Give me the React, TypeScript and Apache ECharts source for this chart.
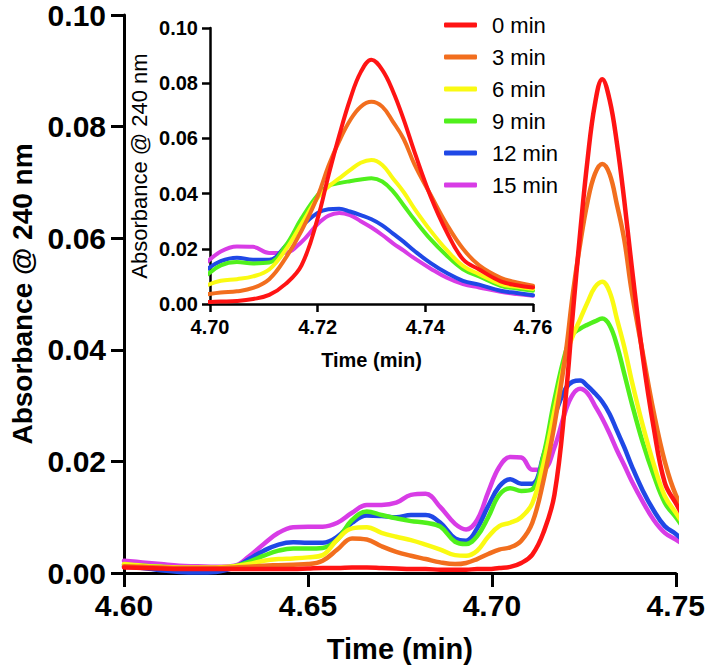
import React, { useEffect, useRef } from 'react';
import * as echarts from 'echarts';

const FONT = '"Liberation Sans", Arial, Helvetica, sans-serif';

// Time (min)
const times = [
  4.600, 4.605, 4.610, 4.615, 4.620, 4.625, 4.630, 4.634, 4.638, 4.642,
  4.646, 4.650, 4.654, 4.658, 4.662, 4.666, 4.670, 4.674, 4.678, 4.682,
  4.686, 4.690, 4.693, 4.696, 4.699, 4.702, 4.705, 4.708, 4.711, 4.714,
  4.717, 4.720, 4.722, 4.724, 4.726, 4.728, 4.730, 4.732, 4.734, 4.736,
  4.738, 4.741, 4.744, 4.747, 4.750, 4.754, 4.757, 4.760,
];

const min0 = [
  0.0010, 0.0009, 0.0008, 0.0007, 0.0007, 0.0007, 0.0007, 0.0007, 0.0007, 0.0007,
  0.0007, 0.0008, 0.0009, 0.0009, 0.0010, 0.0010, 0.0009, 0.0008, 0.0007, 0.0007,
  0.0006, 0.0006, 0.0006, 0.0007, 0.0007, 0.0009, 0.0011, 0.0018, 0.0033, 0.0072,
  0.0140, 0.0310, 0.0465, 0.0610, 0.0740, 0.0840, 0.0885, 0.0848, 0.0770, 0.0667,
  0.0550, 0.0389, 0.0260, 0.0162, 0.0125, 0.0082, 0.0068, 0.0060,
];

const min3 = [
  0.0012, 0.0011, 0.0010, 0.0009, 0.0009, 0.0009, 0.0010, 0.0011, 0.0013, 0.0014,
  0.0015, 0.0016, 0.0022, 0.0042, 0.0062, 0.0060, 0.0048, 0.0038, 0.0031, 0.0025,
  0.0019, 0.0016, 0.0018, 0.0025, 0.0034, 0.0042, 0.0046, 0.0058, 0.0090, 0.0165,
  0.0265, 0.0390, 0.0500, 0.0590, 0.0665, 0.0715, 0.0733, 0.0715, 0.0660, 0.0597,
  0.0505, 0.0395, 0.0288, 0.0200, 0.0140, 0.0095, 0.0078, 0.0066,
];

const min6 = [
  0.0016, 0.0013, 0.0011, 0.0010, 0.0010, 0.0010, 0.0012, 0.0016, 0.0022, 0.0025,
  0.0026, 0.0028, 0.0032, 0.0060, 0.0080, 0.0082, 0.0072, 0.0065, 0.0059, 0.0051,
  0.0042, 0.0032, 0.0031, 0.0040, 0.0065, 0.0084, 0.0090, 0.0100, 0.0125, 0.0195,
  0.0290, 0.0385, 0.0425, 0.0455, 0.0485, 0.0512, 0.0522, 0.0504, 0.0455, 0.0405,
  0.0345, 0.0265, 0.0195, 0.0138, 0.0108, 0.0072, 0.0062, 0.0054,
];

const min9 = [
  0.0015, 0.0013, 0.0011, 0.0009, 0.0008, 0.0008, 0.0012, 0.0020, 0.0031, 0.0040,
  0.0044, 0.0044, 0.0045, 0.0060, 0.0095, 0.0110, 0.0104, 0.0098, 0.0093, 0.0090,
  0.0083, 0.0056, 0.0052, 0.0066, 0.0100, 0.0140, 0.0152, 0.0147, 0.0150, 0.0210,
  0.0310, 0.0395, 0.0428, 0.0438, 0.0445, 0.0451, 0.0456, 0.0444, 0.0408, 0.0357,
  0.0305, 0.0234, 0.0175, 0.0126, 0.0100, 0.0066, 0.0056, 0.0048,
];

const min12 = [
  0.0012, 0.0009, 0.0005, 0.0002, 0.0001, 0.0002, 0.0010, 0.0025, 0.0040, 0.0051,
  0.0055, 0.0054, 0.0054, 0.0065, 0.0090, 0.0103, 0.0102, 0.0100, 0.0104, 0.0104,
  0.0090, 0.0062, 0.0058, 0.0080, 0.0120, 0.0155, 0.0168, 0.0160, 0.0160, 0.0210,
  0.0280, 0.0330, 0.0343, 0.0345, 0.0335, 0.0322, 0.0307, 0.0285, 0.0255, 0.0225,
  0.0192, 0.0148, 0.0112, 0.0084, 0.0070, 0.0048, 0.0040, 0.0032,
];

const min15 = [
  0.0022, 0.0019, 0.0016, 0.0013, 0.0012, 0.0011, 0.0013, 0.0030, 0.0052, 0.0072,
  0.0082, 0.0083, 0.0083, 0.0090, 0.0108, 0.0122, 0.0122, 0.0126, 0.0140, 0.0142,
  0.0118, 0.0088, 0.0078, 0.0095, 0.0145, 0.0190, 0.0208, 0.0207, 0.0185, 0.0186,
  0.0225, 0.0290, 0.0320, 0.0330, 0.0322, 0.0300, 0.0277, 0.0250, 0.0220, 0.0193,
  0.0165, 0.0128, 0.0095, 0.0072, 0.0060, 0.0044, 0.0036, 0.0030,
];

const seriesNames = ['0 min', '3 min', '6 min', '9 min', '12 min', '15 min'];
const seriesValues = [min0, min3, min6, min9, min12, min15];
const seriesColors = ['#ff1414', '#f26e1e', '#fafa12', '#50f01c', '#1f48e6', '#d83ce6'];

const mainXTicks = { min: 4.6, max: 4.75, interval: 0.05 };
const mainYTicks = { min: 0, max: 0.1, interval: 0.02 };
const insetXTicks = { min: 4.7, max: 4.76, interval: 0.02 };
const insetYTicks = { min: 0, max: 0.1, interval: 0.02 };

const fmt2 = (v: number) => v.toFixed(2);

export default function App() {
  const ref = useRef<HTMLDivElement>(null);

  useEffect(() => {
    const chart = echarts.init(ref.current!, null, { renderer: 'svg' });

    const axisCommon = (width: number, tickLen: number, fontSize: number, margin: number) => ({
      type: 'value' as const,
      axisLine: { show: true, onZero: false, lineStyle: { color: '#000', width } },
      axisTick: { show: true, length: tickLen, lineStyle: { color: '#000', width } },
      splitLine: { show: false },
      axisLabel: {
        show: true,
        color: '#000',
        fontFamily: FONT,
        fontWeight: 'bold' as const,
        fontSize,
        margin,
        formatter: fmt2,
        showMinLabel: true,
        showMaxLabel: true,
      },
    });

    const series: any[] = [];
    seriesNames.forEach((name, i) => {
      const data = times.map((t, k) => [t, seriesValues[i][k]]);
      const z = 10 - i;
      series.push({
        name,
        type: 'line',
        xAxisIndex: 0,
        yAxisIndex: 0,
        data,
        smooth: 0.4,
        showSymbol: false,
        symbol: 'none',
        clip: true,
        z,
        lineStyle: { color: seriesColors[i], width: 4.5, cap: 'round', join: 'round' },
        itemStyle: { color: seriesColors[i] },
      });
      series.push({
        name,
        type: 'line',
        xAxisIndex: 1,
        yAxisIndex: 1,
        data,
        smooth: 0.4,
        showSymbol: false,
        symbol: 'none',
        clip: true,
        z,
        lineStyle: { color: seriesColors[i], width: 4, cap: 'round', join: 'round' },
        itemStyle: { color: seriesColors[i] },
      });
    });

    const option: any = {
      animation: false,
      backgroundColor: '#ffffff',
      grid: [
        { left: 115, right: 31, top: 10, bottom: 97 },
        { left: 210, right: 175, top: 28, bottom: 366 },
      ],
      xAxis: [
        {
          ...axisCommon(3, 14, 30, 17),
          gridIndex: 0,
          ...mainXTicks,
          name: 'Time (min)',
          nameLocation: 'middle',
          nameGap: 61,
          nameTextStyle: { color: '#000', fontFamily: FONT, fontWeight: 'bold', fontSize: 29 },
        },
        {
          ...axisCommon(2.5, 8, 20, 13),
          gridIndex: 1,
          ...insetXTicks,
          name: 'Time (min)',
          nameLocation: 'middle',
          nameGap: 46,
          nameTextStyle: { color: '#000', fontFamily: FONT, fontWeight: 'bold', fontSize: 20 },
        },
      ],
      yAxis: [
        {
          ...axisCommon(3, 13, 30, 18),
          gridIndex: 0,
          ...mainYTicks,
          name: 'Absorbance @ 240 nm',
          nameLocation: 'middle',
          nameGap: 88,
          nameTextStyle: { color: '#000', fontFamily: FONT, fontWeight: 'bold', fontSize: 28 },
        },
        {
          ...axisCommon(2.5, 8, 20, 12),
          gridIndex: 1,
          ...insetYTicks,
          name: 'Absorbance @ 240 nm',
          nameLocation: 'middle',
          nameGap: 60,
          nameTextStyle: { color: '#000', fontFamily: FONT, fontWeight: 'normal', fontSize: 22 },
        },
      ],
      legend: {
        show: true,
        orient: 'vertical',
        left: 439,
        top: 9,
        icon: 'roundRect',
        itemWidth: 33,
        itemHeight: 5,
        itemGap: 10,
        data: seriesNames,
        textStyle: { color: '#000', fontFamily: FONT, fontSize: 22, lineHeight: 22, padding: [0, 0, 0, 10] },
      },
      series,
    };

    chart.setOption(option);
    return () => chart.dispose();
  }, []);

  return (
    <div
      ref={ref}
      style={{ position: 'fixed', left: 0, top: 0, width: 708, height: 670, background: '#fff' }}
    />
  );
}
